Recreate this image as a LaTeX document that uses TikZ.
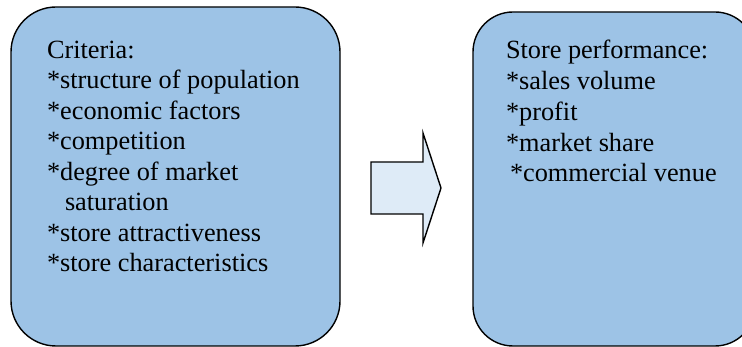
\documentclass[tikz,border=0pt]{standalone}
\usepackage{fontspec}
\setmainfont{Liberation Serif}
\newfontfamily\timesfont{Liberation Serif}
\definecolor{boxblue}{HTML}{9DC3E6}
\definecolor{arrowblue}{HTML}{DEEBF7}
\begin{document}
\begin{tikzpicture}[x=1pt,y=-1pt,
  panel/.style={draw=black, line width=1.4pt, fill=boxblue, inner sep=0pt, outer sep=0pt, anchor=north west},
  txt/.style={anchor=base west, inner sep=0pt, outer sep=0pt, font=\timesfont\fontsize{26.3}{30.5}\selectfont},
  blockarrow/.style={draw=black, line width=1.4pt, fill=arrowblue, line join=miter}]
\useasboundingbox (0,0) rectangle (742,347);
\begin{scope}
\clip (0,0) rectangle (742,347);
\node[panel, rounded corners=45pt, minimum width=329pt, minimum height=339pt] (leftbox) at (11,7) {};
\node[panel, rounded corners=40pt, minimum width=282pt, minimum height=334pt] (rightbox) at (473,12) {};
\end{scope}
\coordinate (a1) at (371,162);
\coordinate (a2) at (423,162);
\coordinate (a3) at (423,133);
\coordinate (tip) at (441,188);
\coordinate (a5) at (423,243);
\coordinate (a6) at (423,214);
\coordinate (a7) at (371,214);
\draw[blockarrow] (a1) -- (a2) -- (a3) -- (tip) -- (a5) -- (a6) -- (a7) -- cycle;
% left text
\node[txt] (l1) at (47,58.3) {Criteria:};
\node[txt] (l2) at (47,88.8) {*structure of population};
\node[txt] (l3) at (47,119.3) {*economic factors};
\node[txt] (l4) at (47,149.8) {*competition};
\node[txt] (l5) at (47,180.3) {*degree of market};
\node[txt] (l6) at (65,210.8) {saturation};
\node[txt] (l7) at (47,241.3) {*store attractiveness};
\node[txt] (l8) at (47,271.8) {*store characteristics};
% right text
\node[txt] (r1) at (506,58.3) {Store performance:};
\node[txt] (r2) at (506,89.3) {*sales volume};
\node[txt] (r3) at (506,120.3) {*profit};
\node[txt] (r4) at (506,151.3) {*market share};
\node[txt] (r5) at (510,181.8) {*commercial venue};
\end{tikzpicture}
\end{document}
